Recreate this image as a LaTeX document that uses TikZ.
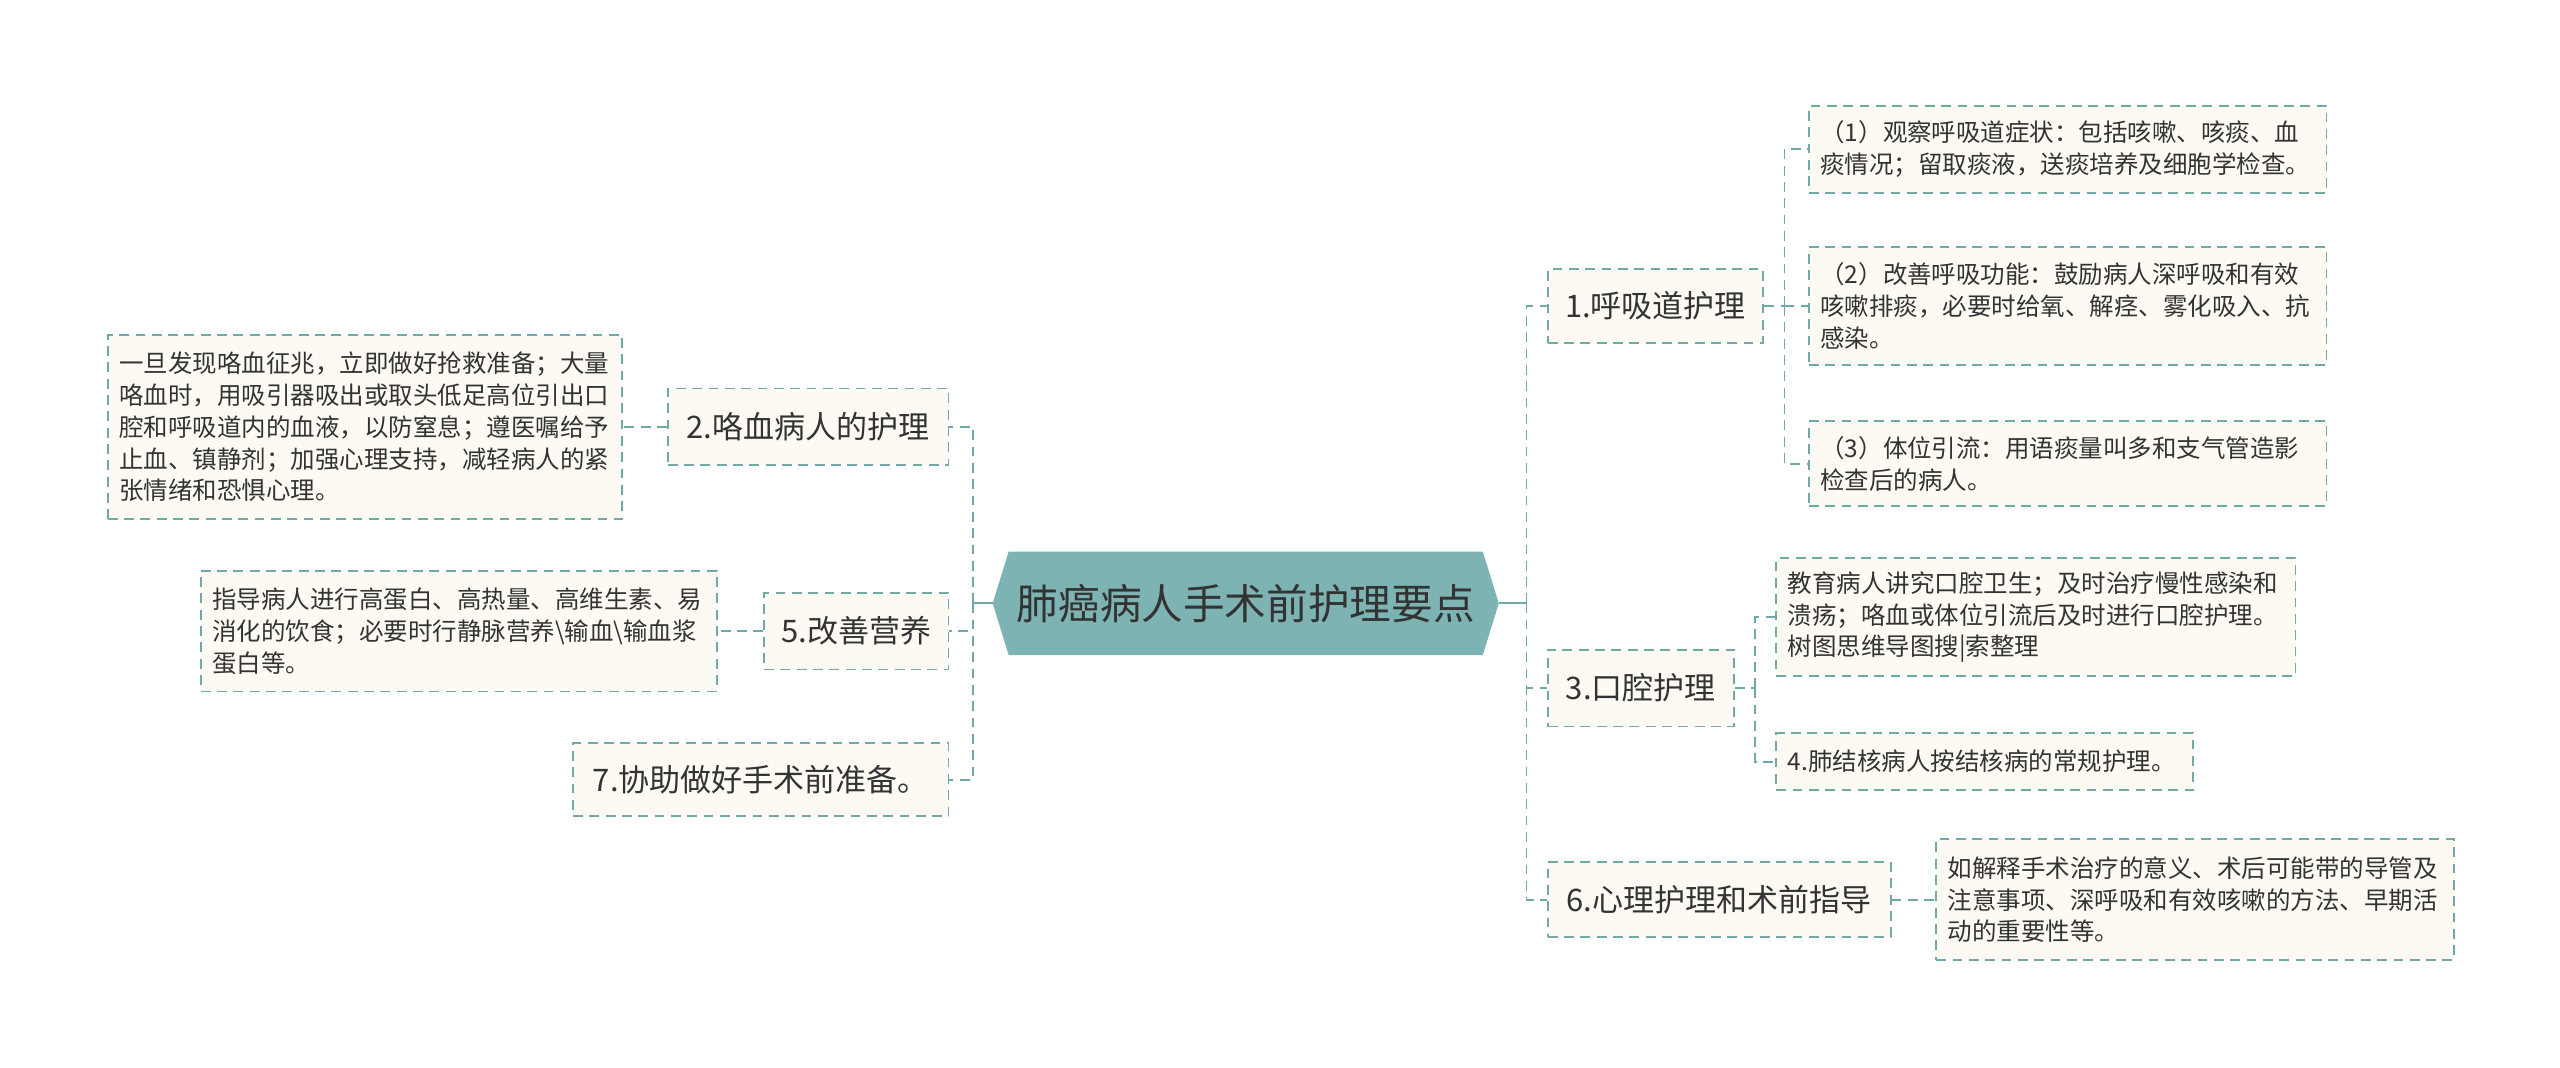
\documentclass[tikz,border=0pt]{standalone}
\usepackage{fontspec}
\newfontfamily\cjk{Noto Sans CJK SC}
\usetikzlibrary{backgrounds}
\definecolor{lc}{HTML}{6FA9A8}
\definecolor{hexc}{HTML}{7DB4B3}
\definecolor{bf}{HTML}{FCFAF2}
\definecolor{tc}{HTML}{333333}
\tikzset{
  conn/.style={draw=lc, line width=1.1pt, dash pattern=on 6pt off 4pt},
  lbox/.style={draw=lc, line width=1.1pt, dash pattern=on 6pt off 4pt, fill=bf, text=tc,
    font=\cjk\fontsize{19}{23}\selectfont, inner sep=0pt, align=center},
  tbox/.style={draw=lc, line width=1.1pt, dash pattern=on 6pt off 4pt, fill=bf, text=tc,
    font=\cjk\fontsize{15}{19.5}\selectfont, inner xsep=7pt, inner ysep=0pt, align=left},
  sz/.style 2 args={minimum width=#1, minimum height=#2},
}
\begin{document}
\begin{tikzpicture}[x=1pt, y=-1pt]
\useasboundingbox (0,0) rectangle (1568,654);

% central node
\node (c) [sz={290pt}{63pt}, inner sep=0pt, text=tc, font=\cjk\fontsize{25.5}{30}\selectfont] at (763,369.5) {肺癌病人手术前护理要点};
\coordinate (cl) at (608,369.5);
\coordinate (cr) at (918,369.5);
\begin{pgfonlayer}{background}
\fill[white] (0,0) rectangle (1568,654);
\fill[hexc] (cl) -- (c.north west) -- (c.north east) -- (cr) -- (c.south east) -- (c.south west) -- cycle;
\end{pgfonlayer}
\coordinate (LT) at (596,369.5);
\coordinate (RT) at (935,369.5);

% left side
\node (n2) [lbox, sz={172pt}{47pt}] at (495,261.5) {2.咯血病人的护理};
\node (t2) [tbox, sz={315pt}{113pt}, text width=301pt] at (223.5,261.5) {一旦发现咯血征兆，立即做好抢救准备；大量\\咯血时，用吸引器吸出或取头低足高位引出口\\腔和呼吸道内的血液，以防窒息；遵医嘱给予\\止血、镇静剂；加强心理支持，减轻病人的紧\\张情绪和恐惧心理。};
\node (n5) [lbox, sz={113pt}{47pt}] at (524.5,386.5) {5.改善营养};
\node (t5) [tbox, sz={316pt}{74pt}, text width=302pt] at (281,386.5) {指导病人进行高蛋白、高热量、高维生素、易\\消化的饮食；必要时行静脉营养\textbackslash 输血\textbackslash 输血浆\\蛋白等。};
\node (n7) [lbox, sz={230pt}{45pt}] at (466,477.5) {7.协助做好手术前准备。};

% right side
\node (n1) [lbox, sz={132pt}{45pt}] at (1014,187.5) {1.呼吸道护理};
\node (t1a) [tbox, sz={317pt}{53pt}, text width=303pt] at (1266.5,91.5) {（1）观察呼吸道症状：包括咳嗽、咳痰、血\\痰情况；留取痰液，送痰培养及细胞学检查。};
\node (t1b) [tbox, sz={317pt}{72pt}, text width=303pt] at (1266.5,187.5) {（2）改善呼吸功能：鼓励病人深呼吸和有效\\咳嗽排痰，必要时给氧、解痉、雾化吸入、抗\\感染。};
\node (t1c) [tbox, sz={317pt}{52pt}, text width=303pt] at (1266.5,284) {（3）体位引流：用语痰量叫多和支气管造影\\检查后的病人。};
\node (n3) [lbox, sz={114pt}{47pt}] at (1005,421.5) {3.口腔护理};
\node (t3a) [tbox, sz={318pt}{72pt}, text width=304pt] at (1247,378) {教育病人讲究口腔卫生；及时治疗慢性感染和\\溃疡；咯血或体位引流后及时进行口腔护理。\\树图思维导图搜|索整理};
\node (t3b) [tbox, sz={255pt}{35pt}, text width=241pt] at (1215.5,466.5) {4.肺结核病人按结核病的常规护理。};
\node (n6) [lbox, sz={210pt}{46pt}] at (1053,551) {6.心理护理和术前指导};
\node (t6) [tbox, sz={317pt}{74pt}, text width=303pt] at (1344.5,551) {如解释手术治疗的意义、术后可能带的导管及\\注意事项、深呼吸和有效咳嗽的方法、早期活\\动的重要性等。};

\coordinate (S1) at (1093,187.5);
\coordinate (S3) at (1075,421.5);

% connectors
\draw[draw=lc, line width=1.1pt] (cl) -- (LT);
\draw[draw=lc, line width=1.1pt] (cr) -- (RT);
\draw[conn] (LT) |- (n2.east);
\draw[conn] (LT) |- (n5.east);
\draw[conn] (LT) |- (n7.east);
\draw[conn] (n2.west) -- (t2.east);
\draw[conn] (n5.west) -- (t5.east);
\draw[conn] (RT) |- (n1.west);
\draw[conn] (RT) |- (n3.west);
\draw[conn] (RT) |- (n6.west);
\draw[conn] (n1.east) -- (S1);
\draw[conn] (S1) |- (t1a.west);
\draw[conn] (S1) |- (t1b.west);
\draw[conn] (S1) |- (t1c.west);
\draw[conn] (n3.east) -- (S3);
\draw[conn] (S3) |- (t3a.west);
\draw[conn] (S3) |- (t3b.west);
\draw[conn] (n6.east) -- (t6.west);
\end{tikzpicture}
\end{document}
